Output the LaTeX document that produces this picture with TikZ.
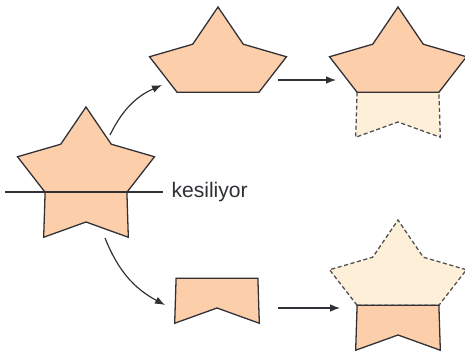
\documentclass[tikz,border=0pt]{standalone}
\usepackage{fontspec}
\setmainfont{Liberation Sans}
\usetikzlibrary{arrows.meta,positioning}
\usepackage{xcolor}
\definecolor{peach}{RGB}{252,207,170}
\definecolor{cream}{RGB}{254,240,216}
\definecolor{ink}{RGB}{48,48,54}

\begin{document}
\begin{tikzpicture}[
            x=0.03cm, y=0.03cm,
            piece/.style={draw=ink, fill=peach, line width=1.1pt, line join=miter},
            ghost/.style={draw=ink!85, fill=cream, line width=1.1pt, dash pattern=on 3.5pt off 2.2pt},
            arrow/.style={-{Latex[length=8.5pt,width=6.5pt]}, line width=1pt, draw=ink},
            toppart/.pic={\path[pic actions] (198:43) -- (162:72) -- (126:43) -- (90:72) -- (54:43) -- (18:72) -- (342:43) -- cycle;},
            botpart/.pic={\path[pic actions] (198:43) -- (234:72) -- (270:43) -- (306:72) -- (342:43) -- cycle;}
        ]
            \useasboundingbox (0,0) rectangle (465,-361);

            % --- YILDIZ (Sol) ---
            \pic[piece] at (86,-179) {toppart};
            \pic[piece] at (86,-179) {botpart};
            \coordinate (cutL) at (5,-192);
            \coordinate (cutR) at (163,-192);
            \draw[ink, line width=1pt] (cutL) -- (cutR);
            \node[right=0.25cm of cutR, inner sep=0pt, text=ink, font=\fontsize{18}{22}\selectfont] (kesit) {kesiliyor};

            % --- UST PARCA (Ust sira) ---
            \pic[piece] at (218,-79) {toppart};
            \pic[ghost] at (398,-79) {botpart};
            \pic[piece] at (398,-79) {toppart};

            % --- ALT PARCA (Alt sira) ---
            \pic[piece] at (217,-265) {botpart};
            \pic[ghost] at (398,-292) {toppart};
            \pic[piece] at (398,-292) {botpart};

            % --- OKLAR ---
            \coordinate (upStart) at (110,-135);
            \coordinate (upEnd) at (162,-85);
            \coordinate (downStart) at (105,-238);
            \coordinate (downEnd) at (165,-305);
            \coordinate (topFrom) at (278,-80);
            \coordinate (topTo) at (336,-80);
            \coordinate (botFrom) at (278,-308);
            \coordinate (botTo) at (340,-308);

            \draw[arrow] (upStart) to[bend left=20] (upEnd);
            \draw[arrow] (downStart) to[bend right=20] (downEnd);
            \draw[arrow] (topFrom) -- (topTo);
            \draw[arrow] (botFrom) -- (botTo);

        \end{tikzpicture}
\end{document}
